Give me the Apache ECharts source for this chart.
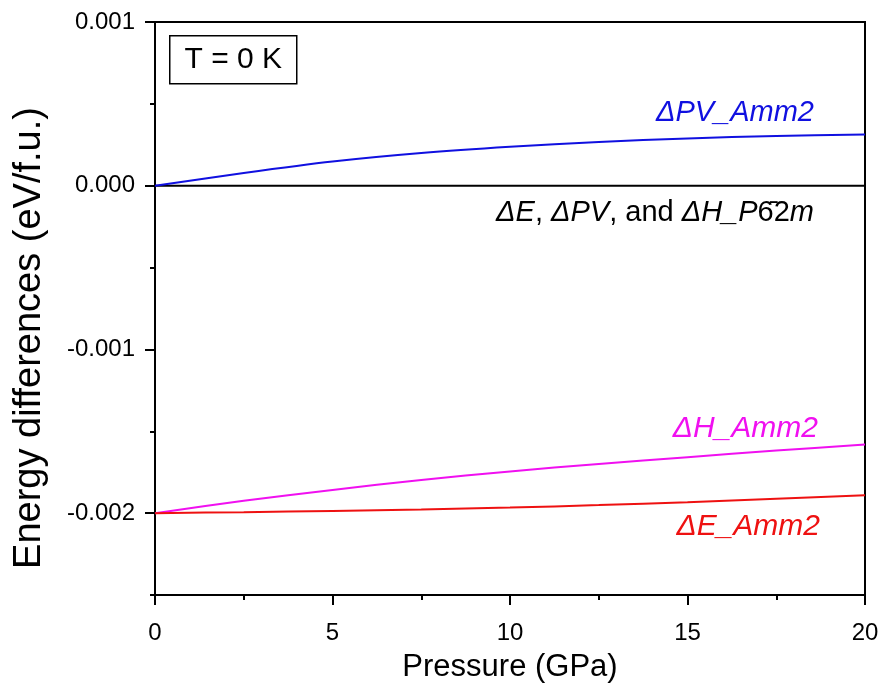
<!DOCTYPE html>
<html>
<head>
<meta charset="utf-8">
<script src="https://cdn.jsdelivr.net/npm/echarts@6/dist/echarts.min.js"></script>
<style>
  html, body { margin: 0; padding: 0; background: #fff; }
  #chart { width: 883px; height: 696px; }
</style>
</head>
<body>
<div id="chart"></div>
<script>
// Pressure grid (GPa)
const pressure = [0, 2.5, 5, 7.5, 10, 12.5, 15, 17.5, 20];
// Energy differences relative to P-62m (eV/f.u.)
const dPV_Amm2 = [0, 0.000078, 0.000148, 0.000200, 0.000238, 0.000267, 0.000289, 0.000304, 0.000313];
const dH_Amm2  = [-0.002, -0.001925, -0.001858, -0.001797, -0.001745, -0.001700, -0.001658, -0.001618, -0.001580];
const dE_Amm2  = [-0.002, -0.001994, -0.001987, -0.001978, -0.001966, -0.001951, -0.001933, -0.001912, -0.001890];
const ref_P62m = [0, 0, 0, 0, 0, 0, 0, 0, 0];
// Labelled y ticks
const yMajorTicks = [-0.002, -0.001, 0, 0.001];

const FONT = 'Liberation Sans, Arial, sans-serif';
const pairs = (ys) => pressure.map((p, i) => [p, ys[i]]);

const chart = echarts.init(document.getElementById('chart'), null, { renderer: 'canvas' });

function lineSeries(name, ys, color, smooth) {
  return {
    name, type: 'line', data: pairs(ys), xAxisIndex: 0, yAxisIndex: 0,
    showSymbol: false, smooth: smooth ? 0.3 : false,
    lineStyle: { color, width: 2 }, itemStyle: { color }, z: 3
  };
}

chart.setOption({
  backgroundColor: '#fff',
  animation: false,
  textStyle: { fontFamily: FONT },
  grid: {
    left: 155, right: 18, top: 22, bottom: 101,
    show: true, borderColor: '#000', borderWidth: 2, backgroundColor: 'transparent'
  },
  xAxis: {
    type: 'value', min: 0, max: 20, interval: 5,
    name: 'Pressure (GPa)', nameLocation: 'middle', nameGap: 57,
    nameTextStyle: { fontSize: 31, color: '#000', fontFamily: FONT },
    axisLine: { show: true, onZero: false, lineStyle: { color: '#000', width: 2 } },
    axisTick: { show: true, inside: false, length: 10, lineStyle: { color: '#000', width: 2 } },
    minorTick: { show: true, splitNumber: 2, length: 5, lineStyle: { color: '#000', width: 2 } },
    axisLabel: { fontSize: 24, color: '#000', margin: 26, fontFamily: FONT },
    splitLine: { show: false }
  },
  yAxis: [
    {
      type: 'value', min: -0.0025, max: 0.001, interval: 0.0005, position: 'left',
      axisLine: { show: true, onZero: false, lineStyle: { color: '#000', width: 2 } },
      axisTick: { show: true, inside: false, length: 5, lineStyle: { color: '#000', width: 2 } },
      axisLabel: {
        customValues: yMajorTicks, fontSize: 24, color: '#000', margin: 20, fontFamily: FONT,
        formatter: (v) => Number(v).toFixed(3)
      },
      splitLine: { show: false }
    },
    {
      type: 'value', min: -0.0025, max: 0.001, position: 'left',
      axisLine: { show: false, onZero: false },
      axisTick: { show: true, inside: false, length: 10, customValues: yMajorTicks,
                  lineStyle: { color: '#000', width: 2 } },
      axisLabel: { show: false },
      splitLine: { show: false }
    }
  ],
  series: [
    lineSeries('ΔE, ΔPV, ΔH P-62m', ref_P62m, '#000000', false),
    lineSeries('ΔPV_Amm2', dPV_Amm2, '#1010e0', true),
    lineSeries('ΔH_Amm2', dH_Amm2, '#f010f0', true),
    lineSeries('ΔE_Amm2', dE_Amm2, '#ee1111', true)
  ],
  graphic: [
    {
      type: 'text', x: 30, y: 338, rotation: Math.PI / 2,
      style: { text: 'Energy differences (eV/f.u.)', fontSize: 38, fontFamily: FONT, fill: '#000',
               align: 'center', verticalAlign: 'middle' }
    },
    {
      type: 'group', left: 169, top: 35,
      children: [
        { type: 'rect', shape: { x: 0, y: 0, width: 127, height: 48 },
          style: { fill: '#fff', stroke: '#000', lineWidth: 1.5 } },
        { type: 'text', x: 63.5, y: 24,
          style: { text: 'T = 0 K', fontSize: 30, fontFamily: FONT, fill: '#000',
                   align: 'center', verticalAlign: 'middle' } }
      ]
    },
    {
      type: 'text', x: 814, y: 113,
      style: { text: 'ΔPV_Amm2', fontSize: 29, fontStyle: 'italic', fontFamily: FONT,
               fill: '#1010e0', align: 'right', verticalAlign: 'middle' }
    },
    {
      type: 'text', x: 814, y: 213,
      style: {
        text: '{i|ΔE}{n|, }{i|ΔPV}{n|, and }{i|ΔH_P}{n|6\u03042}{i|m}',
        align: 'right', verticalAlign: 'middle',
        rich: {
          i: { fontSize: 29, fontStyle: 'italic', fontFamily: FONT, fill: '#000', color: '#000' },
          n: { fontSize: 29, fontFamily: FONT, fill: '#000', color: '#000' }
        }
      }
    },
    {
      type: 'text', x: 818, y: 429,
      style: { text: 'ΔH_Amm2', fontSize: 30, fontStyle: 'italic', fontFamily: FONT,
               fill: '#f010f0', align: 'right', verticalAlign: 'middle' }
    },
    {
      type: 'text', x: 820, y: 527,
      style: { text: 'ΔE_Amm2', fontSize: 30, fontStyle: 'italic', fontFamily: FONT,
               fill: '#ee1111', align: 'right', verticalAlign: 'middle' }
    }
  ]
});
</script>
</body>
</html>
